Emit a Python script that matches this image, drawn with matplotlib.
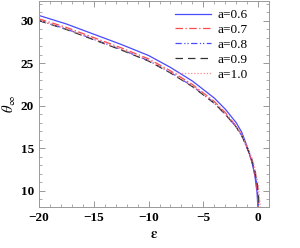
import matplotlib
matplotlib.use("Agg")
import matplotlib.pyplot as plt
from matplotlib.ticker import MultipleLocator

labels = ["a=0.6", "a=0.7", "a=0.8", "a=0.9", "a=1.0"]

eps_06 = [-20, -17.5, -15, -12.5, -10, -8, -6, -4, -3, -2, -1.5, -1, -0.6, -0.3, -0.1, 0.0]
th_06 = [30.6, 29.6, 28.4, 27.2, 25.9, 24.5, 22.9, 20.9, 19.6, 18.0, 16.9, 15.2, 13.6, 11.8, 9.8, 7.5]

eps_07 = [-20, -17.5, -15, -12.5, -10, -8, -6, -4, -3, -2, -1.5, -1, -0.6, -0.3, -0.1, 0.05]
th_07 = [30.2, 29.2, 28.0, 26.8, 25.5, 24.1, 22.5, 20.5, 19.2, 17.6, 16.6, 15.0, 13.5, 11.9, 10.2, 7.5]

eps_08 = [-20, -17.5, -15, -12.5, -10, -8, -6, -4, -3, -2, -1.5, -1, -0.6, -0.3, -0.1, 0.1]
th_08 = [30.0, 29.0, 27.8, 26.6, 25.3, 23.9, 22.3, 20.3, 19.0, 17.5, 16.5, 15.0, 13.6, 12.1, 10.6, 7.5]

eps_09 = [-20, -17.5, -15, -12.5, -10, -8, -6, -4, -3, -2, -1.5, -1, -0.6, -0.3, -0.05, 0.15]
th_09 = [30.0, 28.95, 27.75, 26.55, 25.25, 23.85, 22.25, 20.3, 19.0, 17.5, 16.5, 15.1, 13.8, 12.4, 10.6, 7.5]

eps_10 = [-20, -17.5, -15, -12.5, -10, -8, -6, -4, -3, -2, -1.5, -1, -0.6, -0.3, 0.0, 0.25]
th_10 = [30.05, 29.05, 27.85, 26.65, 25.35, 23.95, 22.35, 20.4, 19.1, 17.6, 16.6, 15.2, 14.0, 12.7, 10.8, 7.5]

plt.rcParams['font.family'] = ['Liberation Serif', 'DejaVu Serif']
plt.rcParams['mathtext.fontset'] = 'stix'

fig = plt.figure(figsize=(3.0, 2.48), dpi=100)
ax = fig.add_axes([0.13, 0.165, 0.767, 0.831])

ax.plot(eps_06, th_06, color='#4a4aff', lw=0.9, ls='-', label=labels[0])
ax.plot(eps_07, th_07, color='#ff4a4a', lw=0.9, ls=(0, (6, 2, 1, 2)), label=labels[1])
ax.plot(eps_08, th_08, color='#4a4aff', lw=0.9, ls=(0, (5, 2, 1, 1.5, 1, 2)), label=labels[2])
ax.plot(eps_09, th_09, color='#333333', lw=0.9, ls=(0, (6, 4)), label=labels[3])
ax.plot(eps_10, th_10, color='#ff8a8a', lw=0.9, ls=(0, (1, 1.5)), label=labels[4])

ax.set_xlim(-20, 1)
ax.set_ylim(8.1, 32.3)
ax.xaxis.set_major_locator(MultipleLocator(5))
ax.xaxis.set_minor_locator(MultipleLocator(1))
ax.yaxis.set_major_locator(MultipleLocator(5))
ax.yaxis.set_minor_locator(MultipleLocator(1))
ax.tick_params(which='both', direction='in', top=True, right=True, colors='#888888',
               labelcolor='black', labelsize=9.5)
ax.tick_params(which='major', length=4, width=0.6)
ax.tick_params(which='minor', length=2, width=0.5)
ax.set_xticks([-20, -15, -10, -5, 0])
ax.set_xticklabels(['\u221220', '\u221215', '\u221210', '\u22125', '0'], fontweight='bold')
ax.set_yticks([10, 15, 20, 25, 30])
ax.set_yticklabels(['10', '15', '20', '25', '30'], fontweight='bold')
for s in ax.spines.values():
    s.set_color('#999999')
    s.set_linewidth(0.7)

ax.set_xlabel(r'$\mathbf{\epsilon}$', fontsize=10.5, labelpad=3)
ax.set_ylabel(r'$\theta_\infty$', fontsize=10.5, labelpad=2)

ax.legend(loc='upper right', frameon=False, fontsize=9.5, handlelength=2.7,
          labelspacing=0.2, handletextpad=0.5, borderaxespad=0.2,
          bbox_to_anchor=(0.94, 1.0))

fig.savefig('out.png', dpi=100)
